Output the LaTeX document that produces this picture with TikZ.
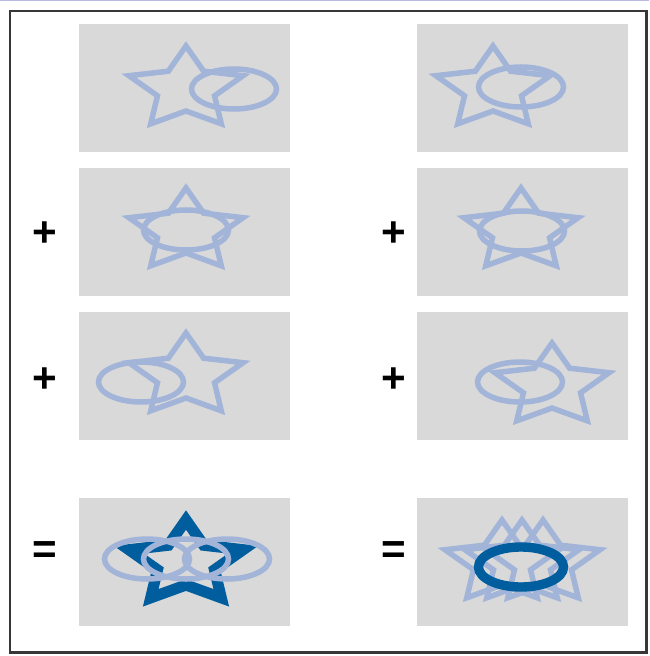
\documentclass[tikz,border=0pt]{standalone}
\usepackage{fontspec}
\setmainfont{Liberation Sans}
\usepackage{tikz}
\usetikzlibrary{positioning}
\usepackage{xcolor}
\definecolor{boxgray}{RGB}{217,217,217}
\definecolor{shapelight}{RGB}{162,181,217}
\definecolor{shapedark}{RGB}{0,93,158}
\definecolor{framegray}{RGB}{55,55,55}
\definecolor{edgelavender}{RGB}{185,185,225}
\tikzstyle{panel} = [rectangle, fill=boxgray, minimum width=6.33cm, minimum height=3.84cm, inner sep=0pt]
\tikzstyle{faint} = [draw=shapelight, line width=4.7pt]
\tikzstyle{strong} = [draw=shapedark, line width=8pt]
\tikzstyle{strongstar} = [draw=shapedark, line width=9.5pt]
\tikzstyle{op} = [font=\fontsize{36}{40}\selectfont\bfseries, inner sep=0pt]

% star outline centred at (#2,#3)
\newcommand{\starat}[3]{%
  \begin{scope}[shift={(#2,#3)}]
    \draw[#1] (90:1.8cm and 1.29cm) -- (126:0.9cm and 0.66cm) -- (162:1.8cm and 1.29cm)
      -- (198:0.9cm and 0.66cm) -- (234:1.8cm and 1.29cm) -- (270:0.9cm and 0.66cm)
      -- (306:1.8cm and 1.29cm) -- (342:0.9cm and 0.66cm) -- (18:1.8cm and 1.29cm)
      -- (54:0.9cm and 0.66cm) -- cycle;
  \end{scope}}
% ellipse outline centred at (#2,#3)
\newcommand{\ovalat}[3]{%
  \draw[#1] (#2,#3) ellipse [x radius=1.275cm, y radius=0.6cm];}

\begin{document}
\begin{tikzpicture}[x=0.03cm, y=-0.03cm]
    \useasboundingbox (0,0) rectangle (649,656);

    % Frame
    \draw[edgelavender, line width=1.2pt] (0,0.6) -- (649,0.6);
    \draw[framegray, line width=2pt] (10,11) rectangle (646.5,652.5);

    % Panels
    \node[panel] (leftone) at (184.5,88) {};
    \node[panel] (lefttwo) at (184.5,232) {};
    \node[panel] (leftthree) at (184.5,376) {};
    \node[panel] (leftsum) at (184.5,562) {};
    \node[panel] (rightone) at (522.5,88) {};
    \node[panel] (righttwo) at (522.5,232) {};
    \node[panel] (rightthree) at (522.5,376) {};
    \node[panel] (rightsum) at (522.5,562) {};

    % Operators
    \node[op] (leftplusA) at (45,234) {+};
    \node[op] (leftplusB) at (45,380) {+};
    \node[op] (lefteq) at (45,553) {=};
    \node[op] (rightplusA) at (394,234) {+};
    \node[op] (rightplusB) at (394,380) {+};
    \node[op] (righteq) at (394,553) {=};

    % Left column: star fixed, ellipse moves
    \starat{faint}{186}{89}
    \ovalat{faint}{234}{89}
    \starat{faint}{186}{231}
    \ovalat{faint}{186}{230}
    \starat{faint}{186}{376}
    \ovalat{faint}{141}{382}

    % Left sum
    \starat{strongstar}{186}{563}
    \ovalat{faint}{147}{559}
    \ovalat{faint}{186}{559}
    \ovalat{faint}{227}{559}

    % Right column: ellipse fixed, star moves
    \starat{faint}{493}{89}
    \ovalat{faint}{521}{87}
    \starat{faint}{521}{231}
    \ovalat{faint}{522}{231}
    \starat{faint}{552}{386}
    \ovalat{faint}{520}{382}

    % Right sum
    \starat{faint}{502}{563}
    \starat{faint}{522}{563}
    \starat{faint}{543}{563}
    \ovalat{strong}{521}{567}
\end{tikzpicture}
\end{document}
